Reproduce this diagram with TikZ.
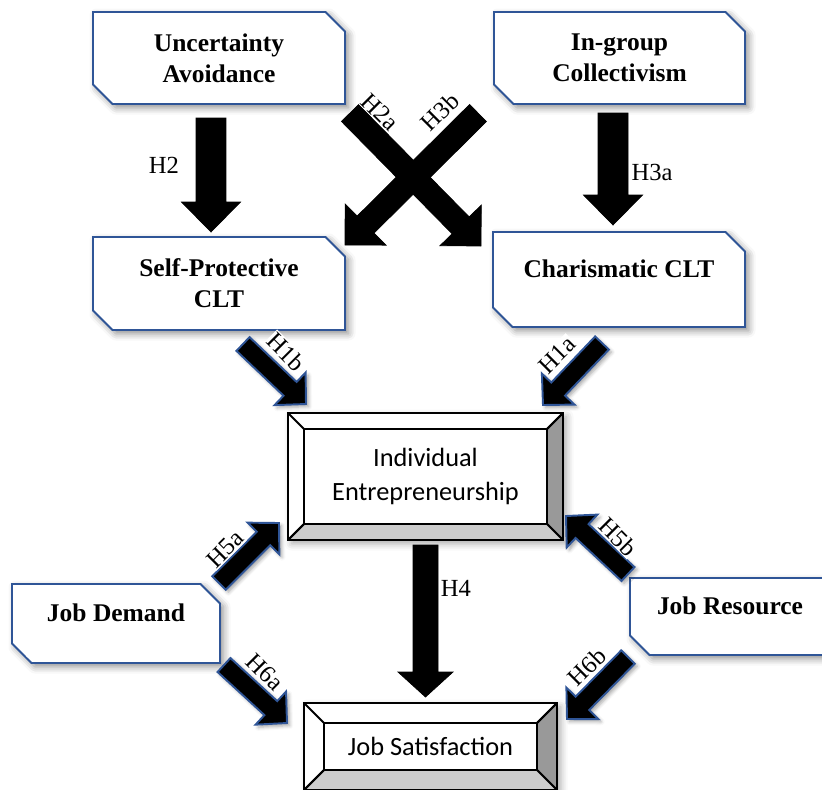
\documentclass[tikz,border=0pt]{standalone}
\usepackage{fontspec}
\setmainfont{Liberation Serif}
\newfontfamily\calibri{Carlito}
\usetikzlibrary{calc,shapes.misc,shadows.blur}
\definecolor{frameblue}{HTML}{2F5597}
\tikzset{
  factor/.style={chamfered rectangle, chamfered rectangle corners={north east,south west},
    chamfered rectangle xsep=0.28cm, draw=frameblue, line width=1.1pt, fill=white,
    align=center, font=\bfseries\fontsize{14.5}{17.6}\selectfont,
    blur shadow={shadow xshift=2pt, shadow yshift=-2pt, shadow blur radius=4pt, shadow opacity=45}},
  textup/.style={text depth=0.45cm},
  outcome/.style={draw=black, line width=1.1pt, fill=white, outer sep=0pt, align=center,
    font=\calibri\fontsize{15}{19.3}\selectfont,
    blur shadow={shadow xshift=2pt, shadow yshift=-2pt, shadow blur radius=4pt, shadow opacity=35}},
  face/.style={draw=black, line width=1.1pt, line join=round},
  hyp/.style={font=\fontsize{14}{16}\selectfont, inner sep=0.6pt, fill=white},
  solidarrow/.style={fill=black},
  framedarrow/.style={fill=black, draw=frameblue, line width=1.1pt, line join=miter,
    blur shadow={shadow xshift=1.5pt, shadow yshift=-1.5pt, shadow blur radius=2pt, shadow opacity=35}},
}

\begin{document}
\begin{tikzpicture}[x=0.02cm, y=-0.02cm]
  % block arrow: style, from, to, half shaft, half head, head length
  \def\blockarrow#1#2#3#4#5#6{%
    \coordinate (ba-h) at ($(#3)!#6!(#2)$);
    \draw[#1] ($(#2)!#4!90:(#3)$) -- ($(ba-h)!#4!90:(#3)$) -- ($(ba-h)!#5!90:(#3)$) -- (#3)
      -- ($(ba-h)!#5!-90:(#3)$) -- ($(ba-h)!#4!-90:(#3)$) -- ($(#2)!#4!-90:(#3)$) -- cycle;}
  % bevel faces of a button box: node, depth in px
  \def\bevel#1#2{%
    \coordinate (#1-a) at ($(#1.north west)+(#2,#2)$);
    \coordinate (#1-b) at ($(#1.north east)+(-#2,#2)$);
    \coordinate (#1-c) at ($(#1.south east)+(-#2,-#2)$);
    \coordinate (#1-d) at ($(#1.south west)+(#2,-#2)$);
    \draw[face, fill=black!40] (#1.north east) -- (#1.south east) -- (#1-c) -- (#1-b) -- cycle;
    \draw[face, fill=black!20] (#1.south west) -- (#1.south east) -- (#1-c) -- (#1-d) -- cycle;
    \draw[face] (#1.north west) -- (#1-a) -- (#1-b) -- (#1.north east);
    \draw[face] (#1-a) -- (#1-d) -- (#1.south west);}

  \useasboundingbox (0,0) rectangle (822,789);
  \clip (0,0) rectangle (822,789);

  % culture and leadership boxes
  \node[factor, minimum width=5.04cm, minimum height=1.84cm] (ua) at (219,58) {Uncertainty\\Avoidance};
  \node[factor, minimum width=5.02cm, minimum height=1.84cm] (ic) at (619.5,58) {In-group\\Collectivism};
  \node[factor, minimum width=5.04cm, minimum height=1.86cm] (sp) at (219,283.5) {Self-Protective\\CLT};
  \node[factor, textup, minimum width=5.04cm, minimum height=1.9cm] (ch) at (619,279.5) {Charismatic CLT};
  \node[factor, textup, minimum width=4.16cm, minimum height=1.58cm] (jd) at (116,623.5) {Job Demand};
  \node[factor, textup, minimum width=4.4cm, minimum height=1.54cm] (jr) at (740,616.5) {Job Resource\rule{0.4cm}{0pt}};

  % outcome boxes
  \node[outcome, minimum width=5.5cm, minimum height=2.54cm] (ie) at (425.5,476.5) {Individual\\Entrepreneurship};
  \bevel{ie}{16}
  \node[outcome, minimum width=5.06cm, minimum height=1.74cm] (js) at (430.5,746.5) {Job Satisfaction};
  \bevel{js}{20}

  % arrow ends
  \coordinate (h2-s) at (211,118);   \coordinate (h2-t) at (211,232);
  \coordinate (h3a-s) at (613,113);  \coordinate (h3a-t) at (613,225);
  \coordinate (h2a-s) at (350,113);  \coordinate (h2a-t) at (481,246);
  \coordinate (h3b-s) at (478,113);  \coordinate (h3b-t) at (345,245);
  \coordinate (h1b-s) at (243,344);  \coordinate (h1b-t) at (306,404);
  \coordinate (h1a-s) at (602,343);  \coordinate (h1a-t) at (543,405);
  \coordinate (h5a-s) at (219,583);  \coordinate (h5a-t) at (279,523);
  \coordinate (h5b-s) at (628,574);  \coordinate (h5b-t) at (566,516);
  \coordinate (h6a-s) at (224,665);  \coordinate (h6a-t) at (287,723);
  \coordinate (h6b-s) at (628,657);  \coordinate (h6b-t) at (567,719);
  \coordinate (h4-s) at (425.5,545); \coordinate (h4-t) at (425.5,697);

  \blockarrow{solidarrow}{h2-s}{h2-t}{0.3cm}{0.59cm}{0.6cm}
  \blockarrow{solidarrow}{h3a-s}{h3a-t}{0.3cm}{0.59cm}{0.6cm}
  \blockarrow{solidarrow}{h2a-s}{h2a-t}{0.24cm}{0.58cm}{0.58cm}
  \blockarrow{solidarrow}{h3b-s}{h3b-t}{0.24cm}{0.58cm}{0.58cm}
  \blockarrow{solidarrow}{h4-s}{h4-t}{0.25cm}{0.55cm}{0.5cm}
  \blockarrow{framedarrow}{h1b-s}{h1b-t}{0.19cm}{0.45cm}{0.44cm}
  \blockarrow{framedarrow}{h1a-s}{h1a-t}{0.19cm}{0.45cm}{0.44cm}
  \blockarrow{framedarrow}{h5a-s}{h5a-t}{0.19cm}{0.45cm}{0.44cm}
  \blockarrow{framedarrow}{h5b-s}{h5b-t}{0.19cm}{0.45cm}{0.44cm}
  \blockarrow{framedarrow}{h6a-s}{h6a-t}{0.19cm}{0.45cm}{0.44cm}
  \blockarrow{framedarrow}{h6b-s}{h6b-t}{0.19cm}{0.45cm}{0.44cm}

  % hypothesis labels
  \node[hyp] (h2) at (164,165) {H2};
  \node[hyp] (h3a) at (652,172) {H3a};
  \node[hyp, rotate=-45] (h2a) at (380,112) {H2a};
  \node[hyp, rotate=45] (h3b) at (440,112) {H3b};
  \node[hyp, rotate=-45] (h1b) at (286,352) {H1b};
  \node[hyp, rotate=45] (h1a) at (557,355) {H1a};
  \node[hyp] (h4) at (456,588) {H4};
  \node[hyp, rotate=45] (h5a) at (225,549) {H5a};
  \node[hyp, rotate=-45] (h5b) at (618,537) {H5b};
  \node[hyp, rotate=-45] (h6a) at (265,672) {H6a};
  \node[hyp, rotate=45] (h6b) at (587,667) {H6b};
\end{tikzpicture}
\end{document}
